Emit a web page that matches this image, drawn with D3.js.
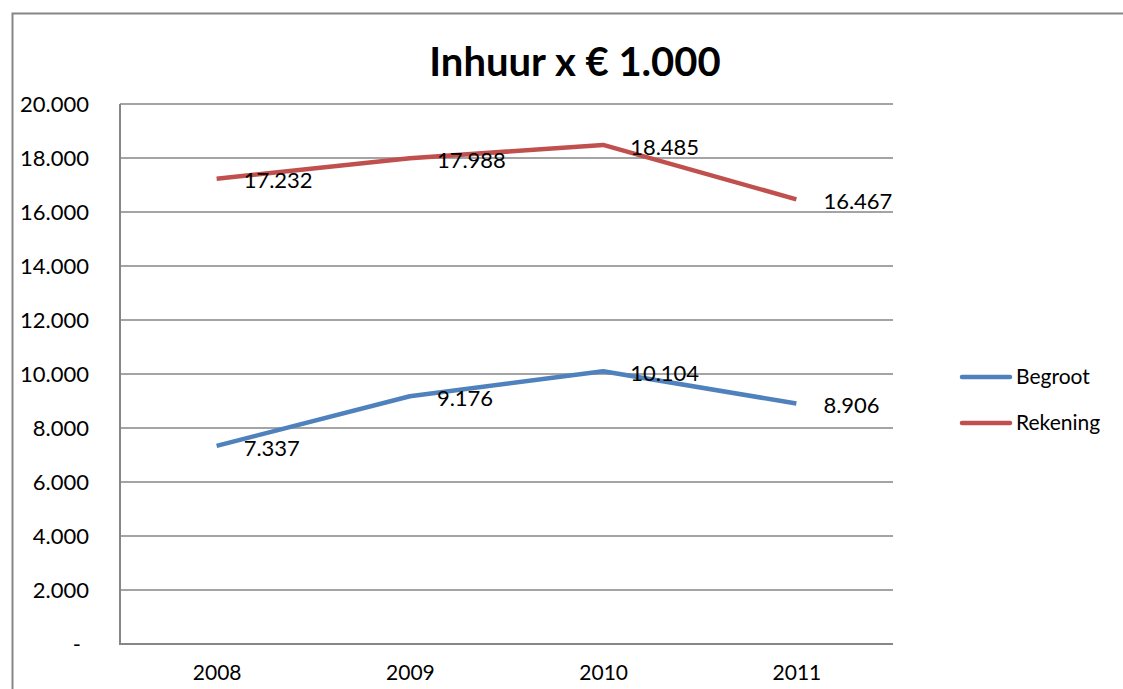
<!DOCTYPE html>
<html>
<head>
<meta charset="utf-8">
<script src="https://cdn.jsdelivr.net/npm/d3@7"></script>
<style>
  body { margin: 0; background: #fff; }
  text { font-family: Lato, "Open Sans", sans-serif; fill: #000; }
</style>
</head>
<body>
<div id="chart"></div>
<script>
var years = ["2008", "2009", "2010", "2011"];
var begroot = [7337, 9176, 10104, 8906];
var rekening = [17232, 17988, 18485, 16467];
var seriesNames = ["Begroot", "Rekening"];
var seriesColors = ["#4F81BD", "#C0504D"];
var yTicks = [0, 2000, 4000, 6000, 8000, 10000, 12000, 14000, 16000, 18000, 20000];

var svgWidth = 1123;
var svgHeight = 689;

var margin = { top: 104, right: 230, bottom: 45, left: 120 };
var width = 893 - margin.left;
var height = 644 - margin.top;

var svg = d3.select("#chart")
    .append("svg")
    .attr("width", svgWidth)
    .attr("height", svgHeight);

// outer chart border (runs off the right and bottom edge)
svg.append("path")
    .attr("d", "M12.5,700 V13.5 H1130")
    .attr("fill", "none")
    .attr("stroke", "#868686")
    .attr("stroke-width", 2);

svg.append("text")
    .attr("x", 575)
    .attr("y", 76)
    .attr("text-anchor", "middle")
    .style("font-size", "40px")
    .style("font-weight", "bold")
    .text("Inhuur x € 1.000");

var chartGroup = svg.append("g")
    .attr("transform", `translate(${margin.left}, ${margin.top})`);

var xScale = d3.scalePoint()
    .domain(years)
    .range([0, width])
    .padding(0.5);

var yScale = d3.scaleLinear()
    .domain([0, 20000])
    .range([height, 0]);

// gridlines
chartGroup.selectAll(".grid")
    .data(yTicks.filter(d => d > 0))
    .enter()
    .append("line")
    .attr("x1", 0)
    .attr("x2", width)
    .attr("y1", d => yScale(d))
    .attr("y2", d => yScale(d))
    .attr("stroke", "#868686")
    .attr("stroke-width", 1.5);

// axes lines
chartGroup.append("path")
    .attr("d", `M0,0 V${height} H${width}`)
    .attr("fill", "none")
    .attr("stroke", "#868686")
    .attr("stroke-width", 2);

var fmt = d3.formatLocale({ decimal: ",", thousands: ".", grouping: [3], currency: ["€", ""] }).format(",");

var leftAxis = d3.axisLeft(yScale)
    .tickValues(yTicks)
    .tickSize(0)
    .tickPadding(31)
    .tickFormat(d => d === 0 ? "-" : fmt(d));

var yAxisG = chartGroup.append("g").call(leftAxis);
yAxisG.select(".domain").remove();
yAxisG.selectAll("text")
    .style("font-size", "22px")
    .attr("dy", "0.35em")
    .attr("dx", d => d === 0 ? -8 : 0);

var bottomAxis = d3.axisBottom(xScale).tickSize(0).tickPadding(21);
var xAxisG = chartGroup.append("g")
    .attr("transform", `translate(0, ${height})`)
    .call(bottomAxis);
xAxisG.select(".domain").remove();
xAxisG.selectAll("text").style("font-size", "21px");

var line = d3.line()
    .x((d, i) => xScale(years[i]))
    .y(d => yScale(d));

[begroot, rekening].forEach((values, s) => {
    chartGroup.append("path")
        .datum(values)
        .attr("d", line)
        .attr("fill", "none")
        .attr("stroke", seriesColors[s])
        .attr("stroke-width", 4.5)
        .attr("stroke-linejoin", "round");

    chartGroup.selectAll(".lbl" + s)
        .data(values)
        .enter()
        .append("text")
        .attr("x", (d, i) => xScale(years[i]) + 27)
        .attr("y", d => yScale(d) + 2)
        .attr("dy", "0.35em")
        .style("font-size", "22px")
        .text(d => fmt(d));
});

// legend
var legend = svg.append("g");
seriesNames.forEach((name, i) => {
    var ly = 377 + i * 46;
    legend.append("line")
        .attr("x1", 962)
        .attr("x2", 1010)
        .attr("y1", ly)
        .attr("y2", ly)
        .attr("stroke", seriesColors[i])
        .attr("stroke-width", 4.5)
        .attr("stroke-linecap", "round");
    legend.append("text")
        .attr("x", 1016)
        .attr("y", ly)
        .attr("dy", "0.35em")
        .style("font-size", "21px")
        .text(name);
});
</script>
</body>
</html>
